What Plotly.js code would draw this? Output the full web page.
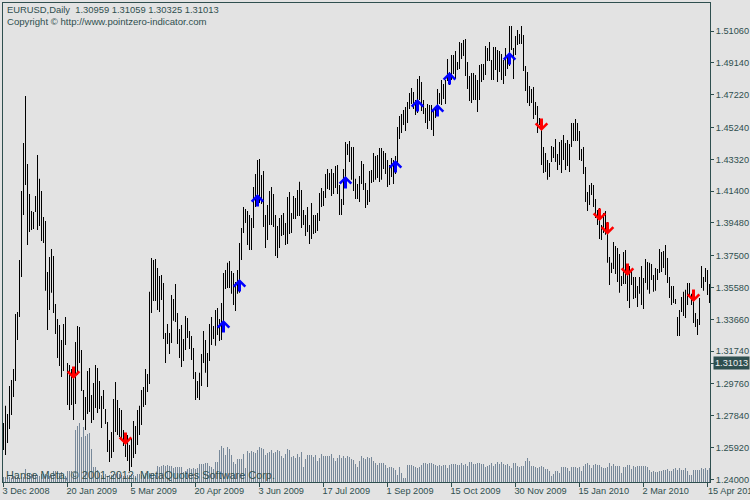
<!DOCTYPE html>
<html><head><meta charset="utf-8">
<script src="https://cdn.plot.ly/plotly-3.0.1.min.js"></script>
<style>html,body{margin:0;padding:0;background:#e3e3e3;overflow:hidden}#c{width:750px;height:500px}</style>
</head><body><div id="c"></div>
<script>
// Daily highs and lows in price points (1 point = 0.0001)
const highPts = [
12741,12844,12795,12964,13000,13067,13399,13411,13725,14141,14431,14714,14304,14123,14020,14014,14111,14358,14214,14141,13984,13960,13652,13743,13791,13749,13459,13368,13332,13242,13338,13380,
13103,13091,13067,13030,13230,13326,13320,13181,12940,12898,13055,13073,12910,12982,13091,13073,12994,12904,12940,12825,12747,12638,12686,12886,12988,12880,12831,12819,12698,12638,12668,12608,
12650,12753,12723,12819,12844,12940,12958,13067,13036,13532,13737,13725,13731,13676,13628,13634,13586,13284,13338,13284,13513,13489,13580,13405,13308,13332,13248,13387,13374,13296,13266,13193,
13049,12994,13043,13157,13296,13242,13163,13338,13380,13326,13423,13435,13368,13465,13646,13664,13707,13719,13658,13646,13592,13664,13827,13918,14044,14032,14020,13996,13978,14165,14244,14328,
14334,14238,14262,13996,14057,14141,14165,14123,13996,13930,13978,13996,14008,13948,14105,14135,14008,14111,14099,14147,14196,14147,14026,13996,14044,13936,14069,13996,13996,14008,14129,14159,
14141,14244,14274,14250,14274,14250,14292,14298,14177,14093,14274,14437,14425,14443,14407,14407,14214,14183,14232,14322,14304,14189,14147,14262,14268,14370,14352,14358,14401,14401,14383,14370,
14328,14298,14340,14328,14352,14527,14594,14606,14630,14648,14678,14733,14763,14739,14690,14817,14835,14799,14690,14642,14666,14660,14660,14630,14642,14757,14733,14811,14787,14811,14938,14859,
14962,14962,14986,14920,15040,15034,15052,15059,14920,14835,14853,14853,14841,14811,14902,14908,14908,15016,15004,15040,14932,15010,15010,14992,14986,14968,14932,15004,14962,15137,15137,15004,
15077,15113,15089,15137,15083,14896,14859,14775,14757,14769,14678,14654,14582,14570,14407,14370,14328,14310,14413,14407,14455,14364,14437,14449,14479,14431,14449,14425,14552,14552,14576,14552,
14503,14395,14407,14286,14135,14177,14189,14177,14093,14026,14038,13936,14008,14020,13954,13743,13707,13833,13809,13797,13761,13628,13773,13785,13670,13688,13658,13622,13622,13568,13622,13688,
13616,13731,13713,13707,13700,13634,13676,13670,13791,13773,13779,13815,13737,13622,13568,13568,13489,13380,13423,13501,13532,13544,13586,13586,13520,13532,13405,13368,13495,13688,13622,13676,
13664,13580];
const lowPts = [
12578,12548,12620,12704,12789,12898,12994,13242,13380,13622,13996,14177,13815,13894,13906,13912,14014,13906,13930,13839,13827,13538,13302,13423,13526,13405,13278,13133,13085,13018,13055,13212,
12849,12819,12849,12759,12855,13030,13103,12934,12759,12698,12795,12807,12741,12759,12831,12801,12825,12710,12825,12735,12566,12505,12529,12566,12686,12668,12656,12644,12602,12535,12511,12451,
12475,12529,12554,12608,12668,12729,12837,12849,12928,12976,13405,13477,13477,13423,13411,13483,13248,13103,13218,13157,13224,13357,13350,13218,13133,13079,13115,13181,13254,13187,13121,13006,
12880,12892,12880,12964,13103,13043,12958,13115,13212,13248,13206,13272,13236,13242,13350,13550,13556,13556,13520,13453,13417,13520,13526,13725,13888,13948,13815,13785,13785,13918,14044,14069,
14069,14063,13924,13797,13845,13936,13936,13924,13749,13737,13797,13869,13875,13815,13821,13881,13888,13972,13972,13990,13990,13918,13936,13869,13894,13821,13851,13882,13888,13900,13960,14044,
14050,14099,14153,14147,14111,14123,14159,14123,13996,13996,14057,14189,14358,14316,14208,14141,14093,14093,14075,14183,14147,14038,14057,14075,14189,14195,14208,14220,14195,14208,14274,14244,
14165,14177,14226,14183,14244,14304,14455,14491,14539,14503,14552,14636,14666,14636,14600,14612,14690,14624,14606,14552,14515,14564,14509,14473,14582,14630,14666,14660,14696,14666,14805,14781,
14811,14847,14817,14871,14877,14938,14956,14835,14757,14684,14672,14690,14690,14618,14690,14799,14811,14841,14926,14926,14811,14811,14871,14799,14859,14811,14787,14835,14877,14896,14992,14817,
14962,15022,15028,15028,14865,14745,14672,14654,14672,14576,14600,14491,14539,14298,14250,14256,14208,14226,14316,14340,14316,14268,14298,14250,14328,14268,14292,14256,14407,14443,14443,14443,
14328,14322,14244,14075,14020,14057,14117,14044,13978,13936,13851,13845,13888,13876,13707,13574,13646,13670,13640,13592,13526,13568,13580,13580,13477,13435,13574,13489,13495,13441,13520,13453,
13429,13586,13544,13520,13604,13532,13538,13604,13646,13652,13676,13634,13586,13495,13453,13465,13459,13266,13266,13411,13387,13374,13453,13501,13453,13344,13320,13272,13332,13556,13538,13592,
13513,13465];
// Tick volume, in hundreds of ticks
const volumes = [
5,5,4,5,4,6,5,5,4,5,5,13,9,8,8,8,7,7,6,8,8,8,7,6,6,11,11,11,9,10,8,6,
11,11,11,8,52,56,59,45,55,46,48,49,33,15,15,12,9,7,6,8,6,7,7,8,8,9,8,7,6,6,7,7,
8,7,6,8,8,7,7,9,8,9,8,9,7,16,15,16,17,16,17,16,16,14,15,15,15,15,10,11,13,14,13,14,
13,14,18,18,18,19,19,16,15,13,20,20,32,36,34,27,35,33,27,20,18,23,23,23,28,14,31,29,31,30,29,32,
35,34,33,27,29,30,32,29,30,32,31,26,24,28,33,32,25,26,24,28,25,30,15,23,27,27,27,25,27,21,24,28,
26,26,26,26,28,24,21,24,27,24,26,24,26,25,23,22,18,15,21,26,24,23,25,24,25,21,19,17,19,19,19,17,
14,15,15,14,12,7,15,9,4,4,17,17,17,16,15,14,15,17,19,19,18,19,19,18,17,16,17,16,17,17,14,17,
18,18,18,17,17,19,17,18,16,20,20,18,18,19,19,18,18,15,16,17,19,16,18,20,18,20,18,17,18,16,14,19,
19,16,15,16,16,21,24,21,16,16,15,14,15,16,15,13,13,11,6,8,11,11,9,15,15,15,14,11,15,15,15,14,
15,11,16,18,19,17,14,17,18,17,17,15,14,14,15,19,16,18,16,16,16,9,15,15,17,17,13,16,15,16,16,16,
16,16,15,12,10,11,10,10,11,11,12,12,13,11,11,13,14,12,14,12,12,14,11,7,7,12,12,12,12,14,13,14,
12,14];
const dateLabels = ['3 Dec 2008','20 Jan 2009','5 Mar 2009','20 Apr 2009','3 Jun 2009','17 Jul 2009','1 Sep 2009','15 Oct 2009','30 Nov 2009','15 Jan 2010','2 Mar 2010','15 Apr 2010'];
const dateBars = [0,32,64,96,128,160,192,224,256,288,320,352];
const priceTicks = [1.24,1.2592,1.2784,1.2976,1.3174,1.3366,1.3558,1.375,1.3948,1.414,1.4332,1.4524,1.4722,1.4914,1.5106];
const lastPrice = 1.31013;
const upBars = [110,118,127,171,196,207,217,223,253];
const upPrices = [1.3362,1.3610,1.4123,1.4232,1.4328,1.4696,1.4666,1.4859,1.4980];
const downBars = [35,61,269,298,302,312,345];
const downPrices = [1.3006,1.2608,1.4503,1.3960,1.3876,1.3628,1.3471];

const ink = '#2f4f4f', bg = '#e3e3e3', face = 'Liberation Sans, Arial, sans-serif';
const idx = highPts.map((_, i) => i);
const highs = highPts.map(v => v / 10000), lows = lowPts.map(v => v / 10000);

const traces = [
  {type:'bar', x:idx, y:volumes, yaxis:'y2', width:0.5, marker:{color:'#778899', line:{width:0}}, hoverinfo:'skip'},
  {type:'bar', x:idx, base:lows, y:highs.map((h, i) => h - lows[i]), width:0.5, marker:{color:'#000000', line:{width:0}}, hoverinfo:'skip'}
];
const label = (x, y, text, size) => ({xref:'paper', yref:'paper', x, y, xanchor:'left', yanchor:'middle', showarrow:false, text, font:{family:face, size, color:ink}, borderpad:0});
const arrow = (x, y, ay, color) => ({x, y, xref:'x', yref:'y', text:'', showarrow:true, ax:0, ay, arrowhead:4, arrowsize:0.75, arrowwidth:3, arrowcolor:color, standoff:0});

const W = 707, H = 479, T = 3;
const annotations = [
  label(3/W, 1 - (10 - T)/H, 'EURUSD,Daily&nbsp;&nbsp;1.30959 1.31059 1.30325 1.31013', 9.4),
  label(3/W, 1 - (21 - T)/H, 'Copyright © http://www.pointzero-indicator.com', 9.6),
  label(2/W, 1 - (475 - T)/H, 'Hanse Meta, © 2001-2012, MetaQuotes Software Corp.', 10.9),
  {xref:'paper', yref:'y', x:1, xshift:3, y:lastPrice, xanchor:'left', yanchor:'middle', showarrow:false, text:lastPrice.toFixed(5), bgcolor:ink, font:{family:face, size:9.2, color:'#f0f0f0'}, borderpad:1},
  {xref:'x', yref:'paper', x:dateBars[11], xshift:-1, y:-9/H, xanchor:'left', yanchor:'middle', showarrow:false, text:dateLabels[11], font:{family:face, size:9.2, color:ink}, borderpad:0}
];
upBars.forEach((b, i) => annotations.push(arrow(b, upPrices[i], 14, '#0000ff')));
downBars.forEach((b, i) => annotations.push(arrow(b, downPrices[i], -14, '#ff0000')));

const layout = {
  width:750, height:500, showlegend:false, barmode:'overlay', paper_bgcolor:bg, plot_bgcolor:bg,
  margin:{l:3, r:40, t:T, b:18, pad:0},
  xaxis:{range:[-0.25, 353.25], tickmode:'array', tickvals:dateBars, ticktext:dateLabels.slice(0, 11).concat(['']), tickangle:0, ticklabelposition:'outside right', ticklabelshift:-2,
    ticks:'outside', ticklen:4, tickcolor:ink, tickwidth:1, showgrid:false, zeroline:false, showline:true, mirror:true, linecolor:ink, linewidth:1,
    tickfont:{family:face, size:9.2, color:ink}},
  yaxis:{range:[1.23843, 1.52756], side:'right', tickmode:'array', tickvals:priceTicks.concat([lastPrice]), ticktext:priceTicks.map(v => v.toFixed(5)).concat(['']),
    ticks:'outside', ticklen:3, tickcolor:ink, tickwidth:1, showgrid:false, zeroline:false, showline:true, mirror:true, linecolor:ink, linewidth:1,
    tickfont:{family:face, size:9.2, color:ink}},
  yaxis2:{overlaying:'y', range:[0, 479], visible:false},
  annotations
};
Plotly.newPlot('c', traces, layout, {displayModeBar:false, staticPlot:true});
</script></body></html>
